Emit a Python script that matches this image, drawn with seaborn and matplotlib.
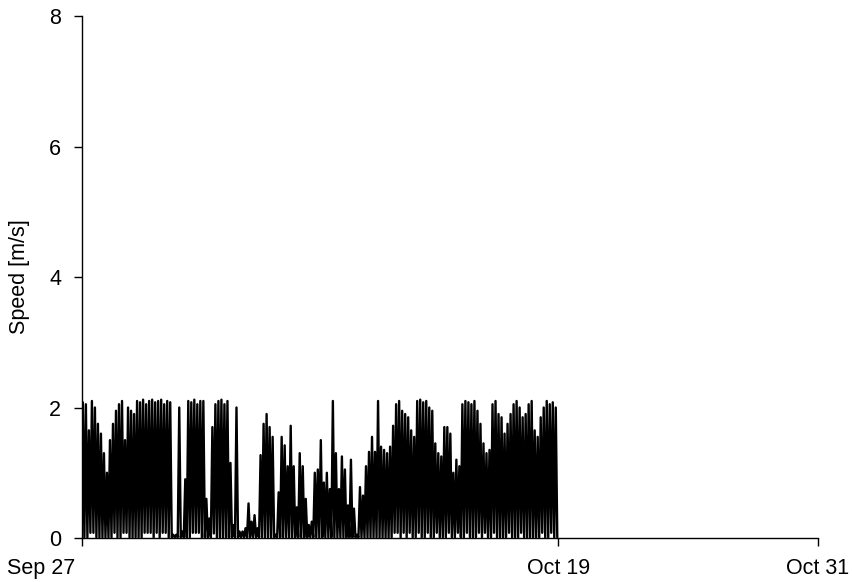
import numpy as np
import pandas as pd
import matplotlib
matplotlib.use("Agg")
import matplotlib.pyplot as plt
import matplotlib.dates as mdates
import matplotlib.transforms as mtransforms
import seaborn as sns

# ---- data ----
# peak speeds (m/s), successive oscillation maxima from Sep 27 to Oct 19
peaks = [
    2.08, 2.05, 1.65, 2.10, 2.00, 1.75, 1.60, 1.30, 1.00, 1.50,
    1.75, 1.95, 2.05, 2.10, 1.50, 2.00, 1.95, 1.90, 2.10, 2.08,
    2.12, 2.05, 2.10, 2.12, 2.08, 2.10, 2.12, 2.05, 2.10, 2.08,
    0.05, 0.05, 2.00, 0.10, 0.90, 2.10, 2.08, 2.12, 2.05, 2.10,
    2.10, 0.60, 0.30, 1.70, 2.05, 2.10, 2.12, 2.05, 2.10, 1.15,
    0.20, 2.00, 0.10, 0.10, 0.15, 0.53, 0.25, 0.35, 0.15, 1.27,
    1.75, 1.90, 1.70, 1.55, 0.05, 0.70, 1.55, 1.42, 1.10, 1.72,
    1.10, 0.47, 1.30, 1.10, 0.60, 0.20, 0.25, 1.00, 1.05, 1.50,
    0.85, 1.00, 0.75, 2.10, 1.30, 0.75, 1.25, 1.05, 0.50, 1.20,
    0.45, 0.05, 0.78, 0.65, 1.10, 1.32, 1.55, 1.32, 2.10, 1.40,
    1.35, 1.30, 1.40, 1.72, 2.05, 2.10, 1.95, 1.90, 1.85, 1.65,
    1.55, 2.10, 2.12, 2.08, 2.10, 2.00, 1.95, 1.45, 1.30, 1.25,
    1.70, 1.70, 1.60, 1.00, 1.20, 1.10, 2.05, 2.10, 2.08, 2.05,
    2.10, 1.95, 1.75, 1.45, 1.30, 1.35, 2.05, 2.10, 1.90, 1.85,
    1.60, 1.75, 1.90, 2.05, 2.10, 2.00, 1.85, 1.90, 2.05, 2.10,
    1.65, 1.55, 1.85, 2.00, 2.10, 2.05, 2.08, 2.00,
]
# minima between successive peaks (m/s)
troughs = [
    0.01, 0.01, 0.08, 0.08, 0.01, 0.01, 0.01, 0.01, 0.01, 0.01,
    0.08, 0.01, 0.01, 0.08, 0.08, 0.01, 0.01, 0.01, 0.01, 0.01,
    0.08, 0.08, 0.08, 0.01, 0.08, 0.01, 0.08, 0.08, 0.01, 0.01,
    0.01, 0.01, 0.01, 0.01, 0.01, 0.01, 0.08, 0.08, 0.08, 0.01,
    0.01, 0.01, 0.01, 0.07, 0.01, 0.01, 0.01, 0.01, 0.01, 0.01,
    0.01, 0.01, 0.01, 0.01, 0.01, 0.01, 0.01, 0.01, 0.01, 0.01,
    0.01, 0.01, 0.01, 0.01, 0.01, 0.01, 0.01, 0.01, 0.01, 0.01,
    0.01, 0.01, 0.01, 0.01, 0.01, 0.01, 0.01, 0.01, 0.01, 0.01,
    0.01, 0.01, 0.01, 0.01, 0.01, 0.01, 0.01, 0.01, 0.01, 0.01,
    0.01, 0.01, 0.01, 0.01, 0.01, 0.01, 0.01, 0.01, 0.01, 0.01,
    0.01, 0.01, 0.01, 0.08, 0.08, 0.01, 0.08, 0.01, 0.08, 0.01,
    0.01, 0.08, 0.01, 0.01, 0.08, 0.01, 0.01, 0.08, 0.01, 0.01,
    0.01, 0.08, 0.01, 0.01, 0.08, 0.01, 0.01, 0.08, 0.01, 0.01,
    0.01, 0.08, 0.01, 0.08, 0.01, 0.01, 0.08, 0.01, 0.01, 0.01,
    0.01, 0.08, 0.01, 0.01, 0.01, 0.08, 0.01, 0.01, 0.01, 0.01,
    0.01, 0.01, 0.08, 0.01, 0.01, 0.08, 0.01, 0.01,
]
series_start = "2013-09-27 01:00"
series_end = "2013-10-18 23:00"
axis_start = "2013-09-27"
axis_end = "2013-10-31"
tick_dates = ["2013-09-27", "2013-10-19", "2013-10-31"]
y_ticks = [0, 2, 4, 6, 8]
y_label = "Speed [m/s]"

# ---- build table ----
n = len(peaks)
speed = np.empty(2 * n)
speed[0::2] = peaks
speed[1::2] = troughs
times = pd.date_range(series_start, series_end, periods=2 * n)
df = pd.DataFrame({"time": times, "speed": speed})

# ---- style ----
FS = 15.5
sns.set_theme(style="ticks")
plt.rcParams["font.family"] = ["Liberation Sans", "DejaVu Sans"]
plt.rcParams["font.size"] = FS

fig = plt.figure(figsize=(8.52, 5.82), dpi=100)
ax = fig.add_axes([0.0962, 0.0756, 0.8638, 0.8969])

sns.lineplot(data=df, x="time", y="speed", ax=ax, color="black",
             linewidth=1.7, estimator=None)

ax.set_xlim(pd.Timestamp(axis_start), pd.Timestamp(axis_end))
ax.set_ylim(y_ticks[0], y_ticks[-1])
ax.set_yticks(y_ticks)
ax.set_xticks([pd.Timestamp(d) for d in tick_dates])
ax.xaxis.set_major_formatter(mdates.DateFormatter("%b %d"))
ax.set_xlabel("")
ax.set_ylabel(y_label, fontsize=FS, labelpad=14, color="black")

sns.despine(ax=ax)
for s in ("left", "bottom"):
    ax.spines[s].set_linewidth(1.0)
    ax.spines[s].set_color("black")
ax.tick_params(axis="y", length=6, width=1.0, pad=9, labelsize=FS,
               colors="black", direction="out")
ax.tick_params(axis="x", length=6, width=1.0, pad=8.5, labelsize=FS,
               colors="black", direction="out")
ax.grid(False)

# first date label sits to the left of its tick, as in the reference
fig.canvas.draw()
first = ax.get_xticklabels()[0]
first.set_horizontalalignment("right")
first.set_transform(first.get_transform() +
                    mtransforms.ScaledTranslation(-5 / 72, 0, fig.dpi_scale_trans))

fig.savefig("out.png", dpi=100)
